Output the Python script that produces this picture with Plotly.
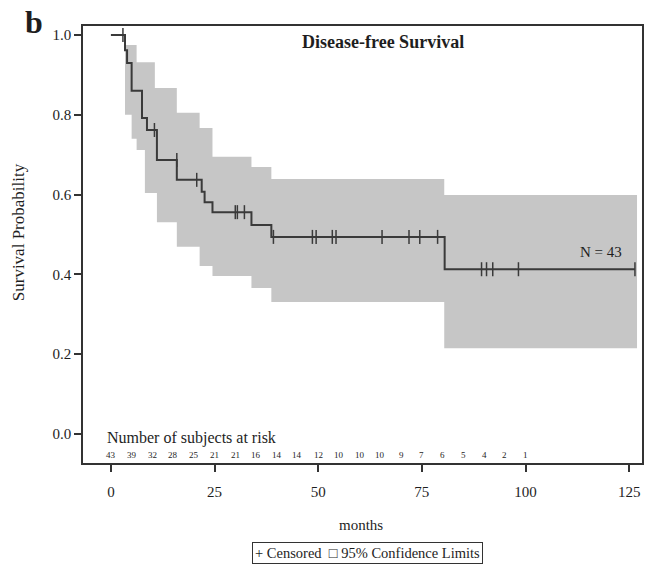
import plotly.graph_objects as go

# Kaplan-Meier step curve (time in months, survival probability)
km_t = [0, 3.4, 3.9, 5.0, 7.5, 8.7, 11.1, 15.9, 21.9, 22.6, 24.5, 33.9, 38.7, 80.5, 126.4]
km_s = [1.0, 0.962, 0.930, 0.860, 0.792, 0.762, 0.687, 0.637, 0.607, 0.581, 0.556, 0.524, 0.494, 0.413, 0.413]

# Censored observations
cens_t = [2.9, 10.5, 15.9, 20.7, 30.0, 30.5, 32.2, 39.2, 48.6, 49.5, 53.4, 54.3,
          65.4, 71.9, 74.5, 78.8, 89.4, 90.6, 92.1, 98.3, 126.4]
cens_s = [1.0, 0.762, 0.687, 0.637, 0.556, 0.556, 0.556, 0.494, 0.494, 0.494, 0.494, 0.494,
          0.494, 0.494, 0.494, 0.494, 0.413, 0.413, 0.413, 0.413, 0.413]

# 95% confidence limits (step band)
ci_t = [3.4, 5.0, 6.2, 8.2, 10.6, 11.1, 15.9, 21.4, 24.5, 33.9, 38.7, 80.4, 126.9]
ci_upper = [0.975, 0.975, 0.932, 0.932, 0.867, 0.867, 0.805, 0.767, 0.695, 0.669, 0.639, 0.599, 0.599]
ci_lower = [0.80, 0.74, 0.712, 0.604, 0.604, 0.531, 0.469, 0.421, 0.396, 0.366, 0.331, 0.215, 0.215]

# Number at risk
risk_t = list(range(0, 101, 5))
risk_n = [43, 39, 32, 28, 25, 21, 21, 16, 14, 14, 12, 10, 10, 10, 9, 7, 6, 5, 4, 2, 1]

x_ticks = [0, 25, 50, 75, 100, 125]
y_ticks = [0.0, 0.2, 0.4, 0.6, 0.8, 1.0]

SERIF = "Liberation Serif"
TXT = "#1e1e1e"
BAND = "#c6c6c6"
LINE = "#3a3a3a"

W, H = 646, 572
l, r, t, b = 83, 2, 26, 109
pw, ph = W - l - r, H - t - b


def px(x):
    return (x - l) / pw


def py(y):
    return (H - b - y) / ph


fig = go.Figure()
fig.add_trace(go.Scatter(x=ci_t, y=ci_lower, mode="lines", line=dict(width=0, shape="hv", color=BAND),
                         showlegend=False, hoverinfo="skip"))
fig.add_trace(go.Scatter(x=ci_t, y=ci_upper, mode="lines", line=dict(width=0, shape="hv", color=BAND),
                         fill="tonexty", fillcolor=BAND, showlegend=False, hoverinfo="skip"))
fig.add_trace(go.Scatter(x=km_t, y=km_s, mode="lines", line=dict(color=LINE, width=2, shape="hv"),
                         showlegend=False))
fig.add_trace(go.Scatter(x=cens_t, y=cens_s, mode="markers",
                         marker=dict(symbol="line-ns-open", size=10, color=LINE,
                                     line=dict(color=LINE, width=1.5)),
                         showlegend=False))

ann = []
for tt, n in zip(risk_t, risk_n):
    ann.append(dict(x=tt, y=-0.053, xref="x", yref="y", text=str(n), showarrow=False,
                    font=dict(family=SERIF, size=9, color=TXT)))
ann += [
    dict(x=-1.4, y=-0.01, xref="x", yref="y", text="Number of subjects at risk", showarrow=False,
         xanchor="left", yanchor="middle", font=dict(family=SERIF, size=16, color=TXT)),
    dict(x=px(384), y=py(42), xref="paper", yref="paper", text="<b>Disease-free Survival</b>",
         showarrow=False, xanchor="center", yanchor="middle", font=dict(family=SERIF, size=18, color=TXT)),
    dict(x=123.8, y=0.456, xref="x", yref="y", text="N = 43", showarrow=False, xanchor="right",
         yanchor="middle", font=dict(family=SERIF, size=15, color=TXT)),
    dict(x=px(34), y=py(22), xref="paper", yref="paper", text="<b>b</b>", showarrow=False,
         xanchor="center", yanchor="middle", font=dict(family=SERIF, size=32, color=TXT)),
    dict(x=px(18), y=py(232), xref="paper", yref="paper", text="Survival Probability",
         textangle=-90, showarrow=False, xanchor="center", yanchor="middle",
         font=dict(family=SERIF, size=17, color=TXT)),
    dict(x=px(362), y=py(525), xref="paper", yref="paper", text="months", showarrow=False,
         xanchor="center", yanchor="middle", font=dict(family=SERIF, size=15, color=TXT)),
    dict(x=px(369), y=py(553), xref="paper", yref="paper",
         text="+ Censored  \u25a1 95% Confidence Limits", showarrow=False,
         xanchor="center", yanchor="middle", bordercolor="#333", borderwidth=1, borderpad=2,
         font=dict(family=SERIF, size=14.5, color=TXT)),
]

fig.update_layout(
    width=W, height=H,
    margin=dict(l=l, r=r, t=t, b=b),
    paper_bgcolor="white", plot_bgcolor="white",
    font=dict(family=SERIF, size=15, color=TXT),
    annotations=ann,
)

fig.update_xaxes(range=[-6.73, 128.1], tickvals=x_ticks, ticks="outside", ticklen=7, tickwidth=1.5,
                 tickcolor="#333", showline=True, linecolor="#333", linewidth=1.5, mirror=True,
                 showgrid=False, zeroline=False, ticklabelstandoff=7,
                 tickfont=dict(family=SERIF, size=15, color=TXT))
fig.update_yaxes(range=[-0.0727, 1.0226], tickvals=y_ticks, tickformat=".1f", ticks="outside", ticklen=7,
                 tickwidth=1.5, tickcolor="#333", showline=True, linecolor="#333", linewidth=1.5, mirror=True,
                 showgrid=False, zeroline=False,
                 tickfont=dict(family=SERIF, size=15, color=TXT))

fig.write_html("out.html", config={"displayModeBar": False},
               post_script="document.body.style.margin='0';document.body.style.overflow='hidden';"
                           "document.documentElement.style.overflow='hidden';")
